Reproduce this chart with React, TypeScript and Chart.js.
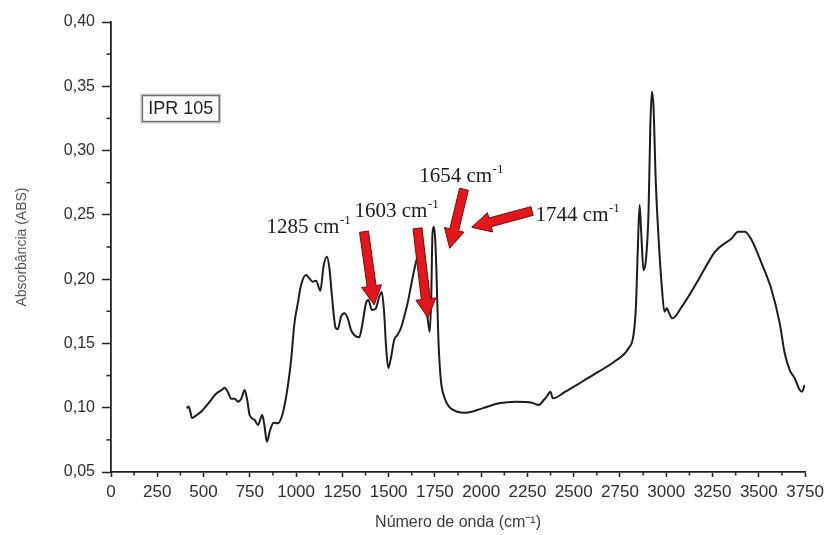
import { useEffect, useRef } from 'react';
import { Chart, registerables } from 'chart.js';

Chart.register(...registerables);

// Spectrum (wavenumber in cm-1, absorbance)
const wavenumbers = [
  408, 420, 430, 438, 460, 480, 524, 569, 600, 614, 632, 650, 668, 686, 704, 722, 736, 749, 776, 794,
  817, 830, 842, 860, 878, 901, 928, 955, 973, 991, 1009, 1027, 1054, 1072, 1090, 1108, 1131, 1148, 1166, 1180,
  1194, 1212, 1225, 1243, 1261, 1279, 1297, 1314, 1341, 1359, 1377, 1390, 1410, 1431, 1449, 1463, 1476, 1485, 1498, 1512,
  1530, 1548, 1566, 1584, 1602, 1620, 1638, 1656, 1670, 1688, 1702, 1712, 1722, 1730, 1737, 1745, 1752, 1758, 1769, 1782,
  1800, 1826, 1871, 1916, 2006, 2096, 2186, 2275, 2311, 2338, 2356, 2374, 2387, 2455, 2545, 2634, 2724, 2796, 2823, 2836,
  2846, 2856, 2865, 2877, 2890, 2904, 2914, 2922, 2931, 2943, 2958, 2976, 2990, 3003, 3016, 3033, 3084, 3173, 3263, 3353,
  3389, 3425, 3461, 3515, 3569, 3613, 3640, 3667, 3694, 3721, 3733, 3748,
];
const absorbance = [
  0.0995, 0.101, 0.096, 0.092, 0.094, 0.096, 0.103, 0.111, 0.114, 0.1156, 0.112, 0.107, 0.107, 0.1047, 0.107, 0.1138, 0.106, 0.0943, 0.0904, 0.0866,
  0.0943, 0.0852, 0.0736, 0.0827, 0.0884, 0.0879, 0.0957, 0.1164, 0.137, 0.1657, 0.181, 0.1954, 0.2032, 0.2006, 0.198, 0.1988, 0.191, 0.2097, 0.2175, 0.2084,
  0.1863, 0.163, 0.161, 0.1708, 0.1734, 0.1695, 0.1604, 0.1566, 0.1548, 0.1657, 0.181, 0.1838, 0.176, 0.1773, 0.1863, 0.19, 0.1734, 0.15, 0.1307, 0.1384,
  0.1527, 0.1566, 0.1618, 0.1708, 0.181, 0.1941, 0.207, 0.2175, 0.22, 0.2, 0.18, 0.168, 0.159, 0.185, 0.2357, 0.2408, 0.23, 0.207, 0.1527, 0.1216,
  0.1086, 0.1008, 0.0969, 0.0961, 0.0995, 0.1034, 0.1047, 0.1039, 0.1021, 0.106, 0.1091, 0.1125, 0.1073, 0.1125, 0.1202, 0.128, 0.1363, 0.1462, 0.1566, 0.1786,
  0.2227, 0.2577, 0.235, 0.207, 0.215, 0.2512, 0.32, 0.3458, 0.334, 0.277, 0.233, 0.194, 0.1747, 0.1773, 0.1734, 0.1695, 0.1786, 0.1993, 0.2213, 0.2317,
  0.2369, 0.2369, 0.2304, 0.2123, 0.1916, 0.1657, 0.1423, 0.1293, 0.1229, 0.1138, 0.1125, 0.1177,
];

// Axes
const xMin = 0;
const xMax = 3750;
const xStep = 250;
const yMin = 0.05;
const yMax = 0.4;
const yStep = 0.05;
const xTitle = 'Número de onda (cm⁻¹)';
const yTitle = 'Absorbância (ABS)';

// Annotations (data coordinates)
const peakLabels = ['1285', '1603', '1654', '1744'];
const labelX = [840, 1315, 1665, 2294];
const labelY = [0.2359, 0.2486, 0.2758, 0.2452];
const arrowTailX = [1367, 1656, 1907, 2275];
const arrowTailY = [0.2369, 0.2395, 0.2699, 0.253];
const arrowTipX = [1422, 1713, 1830, 1949];
const arrowTipY = [0.1799, 0.1698, 0.224, 0.2403];

const sampleName = 'IPR 105';
const sampleBoxX = [167, 587];
const sampleBoxY = [0.3432, 0.3222];

function drawArrow(ctx: CanvasRenderingContext2D, x1: number, y1: number, x2: number, y2: number) {
  const shaftW = 9;
  const headW = 20;
  const headL = 19;
  const dx = x2 - x1;
  const dy = y2 - y1;
  const len = Math.hypot(dx, dy);
  const ux = dx / len;
  const uy = dy / len;
  const px = -uy;
  const py = ux;
  const bx = x2 - ux * headL;
  const by = y2 - uy * headL;
  const pts = [
    [x1 + px * shaftW / 2, y1 + py * shaftW / 2],
    [bx + px * shaftW / 2, by + py * shaftW / 2],
    [bx + px * headW / 2, by + py * headW / 2],
    [x2, y2],
    [bx - px * headW / 2, by - py * headW / 2],
    [bx - px * shaftW / 2, by - py * shaftW / 2],
    [x1 - px * shaftW / 2, y1 - py * shaftW / 2],
  ];
  ctx.beginPath();
  ctx.moveTo(pts[0][0], pts[0][1]);
  for (let i = 1; i < pts.length; i++) ctx.lineTo(pts[i][0], pts[i][1]);
  ctx.closePath();
  ctx.fillStyle = '#e3161b';
  ctx.fill();
  ctx.strokeStyle = '#7a0a0a';
  ctx.lineWidth = 1;
  ctx.stroke();
}

const annotationPlugin = {
  id: 'ftirAnnotations',
  afterDraw(chart: any) {
    const { ctx, scales, chartArea } = chart;
    const xs = scales.x;
    const ys = scales.y;
    ctx.save();
    // minor ticks
    ctx.strokeStyle = '#222';
    ctx.lineWidth = 1.5;
    for (let v = xMin + xStep / 2; v < xMax; v += xStep) {
      const p = xs.getPixelForValue(v);
      ctx.beginPath();
      ctx.moveTo(p, chartArea.bottom);
      ctx.lineTo(p, chartArea.bottom + 3.5);
      ctx.stroke();
    }
    for (let v = yMin + yStep / 2; v < yMax; v += yStep) {
      const p = ys.getPixelForValue(v);
      ctx.beginPath();
      ctx.moveTo(chartArea.left, p);
      ctx.lineTo(chartArea.left - 4.5, p);
      ctx.stroke();
    }

    // sample box
    const bx1 = xs.getPixelForValue(sampleBoxX[0]);
    const bx2 = xs.getPixelForValue(sampleBoxX[1]);
    const by1 = ys.getPixelForValue(sampleBoxY[0]);
    const by2 = ys.getPixelForValue(sampleBoxY[1]);
    ctx.strokeStyle = '#bdbdbd';
    ctx.lineWidth = 1;
    ctx.strokeRect(bx1 - 1, by1 - 1, bx2 - bx1 + 2, by2 - by1 + 2);
    ctx.strokeStyle = '#6e6e6e';
    ctx.lineWidth = 1.5;
    ctx.strokeRect(bx1 + 0.5, by1 + 0.5, bx2 - bx1 - 1, by2 - by1 - 1);
    ctx.fillStyle = '#1e1e1e';
    ctx.font = '18px "Liberation Sans", Arial, sans-serif';
    ctx.textAlign = 'center';
    ctx.textBaseline = 'middle';
    ctx.fillText(sampleName, (bx1 + bx2) / 2, (by1 + by2) / 2 + 1);

    // peak labels
    ctx.textAlign = 'left';
    ctx.textBaseline = 'alphabetic';
    for (let i = 0; i < peakLabels.length; i++) {
      const x = xs.getPixelForValue(labelX[i]);
      const y = ys.getPixelForValue(labelY[i]);
      ctx.font = '21px "Liberation Serif", "Times New Roman", serif';
      ctx.fillStyle = '#1a1a1a';
      const main = `${peakLabels[i]} cm`;
      ctx.fillText(main, x, y);
      const w = ctx.measureText(main).width;
      ctx.font = '13px "Liberation Serif", "Times New Roman", serif';
      ctx.fillText('-1', x + w + 0.5, y - 9);
    }

    // arrows
    for (let i = 0; i < arrowTailX.length; i++) {
      drawArrow(
        ctx,
        xs.getPixelForValue(arrowTailX[i]),
        ys.getPixelForValue(arrowTailY[i]),
        xs.getPixelForValue(arrowTipX[i]),
        ys.getPixelForValue(arrowTipY[i]),
      );
    }
    ctx.restore();
  },
};

export default function App() {
  const canvasRef = useRef<HTMLCanvasElement | null>(null);

  useEffect(() => {
    if (!canvasRef.current) return;
    const points = wavenumbers.map((x, i) => ({ x, y: absorbance[i] }));
    const chart = new Chart(canvasRef.current, {
      type: 'line',
      data: {
        datasets: [
          {
            data: points,
            borderColor: '#1c1c1c',
            borderWidth: 2,
            pointRadius: 0,
            fill: false,
            cubicInterpolationMode: 'monotone',
          },
        ],
      },
      options: {
        animation: false,
        responsive: true,
        maintainAspectRatio: false,
        layout: { padding: { top: 22, right: 22, left: 0, bottom: 0 } },
        plugins: {
          legend: { display: false },
          tooltip: { enabled: false },
        },
        scales: {
          x: {
            type: 'linear',
            min: xMin,
            max: xMax,
            afterFit: (scale: any) => {
              scale.height = 63;
            },
            border: { display: true, color: '#222', width: 1.8 },
            grid: { drawOnChartArea: false, tickLength: 5, tickColor: '#222', tickWidth: 1.5 },
            ticks: {
              stepSize: xStep,
              autoSkip: false,
              maxRotation: 0,
              padding: 5,
              color: '#2e2e2e',
              font: { family: '"Liberation Sans", Arial, sans-serif', size: 17 },
              callback: (v: any) => String(v),
            },
            title: {
              display: true,
              text: xTitle,
              color: '#3a3a3a',
              padding: { top: 0, bottom: 3 },
              font: { family: '"Liberation Sans", Arial, sans-serif', size: 16 },
            },
          },
          y: {
            type: 'linear',
            min: yMin,
            max: yMax,
            afterFit: (scale: any) => {
              scale.width = 111;
            },
            border: { display: true, color: '#222', width: 1.8 },
            grid: { drawOnChartArea: false, tickLength: 9, tickColor: '#222', tickWidth: 1.5 },
            ticks: {
              stepSize: yStep,
              padding: 7,
              color: '#2e2e2e',
              font: { family: '"Liberation Sans", Arial, sans-serif', size: 16 },
              callback: (v: any) => Number(v).toFixed(2).replace('.', ','),
            },
            title: {
              display: true,
              text: yTitle,
              color: '#555',
              padding: { top: 14, bottom: 0 },
              font: { family: '"Liberation Sans", Arial, sans-serif', size: 14 },
            },
          },
        },
      },
      plugins: [annotationPlugin],
    });
    return () => chart.destroy();
  }, []);

  return (
    <div style={{ position: 'fixed', left: 0, top: 0, width: 829, height: 535, background: '#fff' }}>
      <canvas ref={canvasRef} />
    </div>
  );
}
